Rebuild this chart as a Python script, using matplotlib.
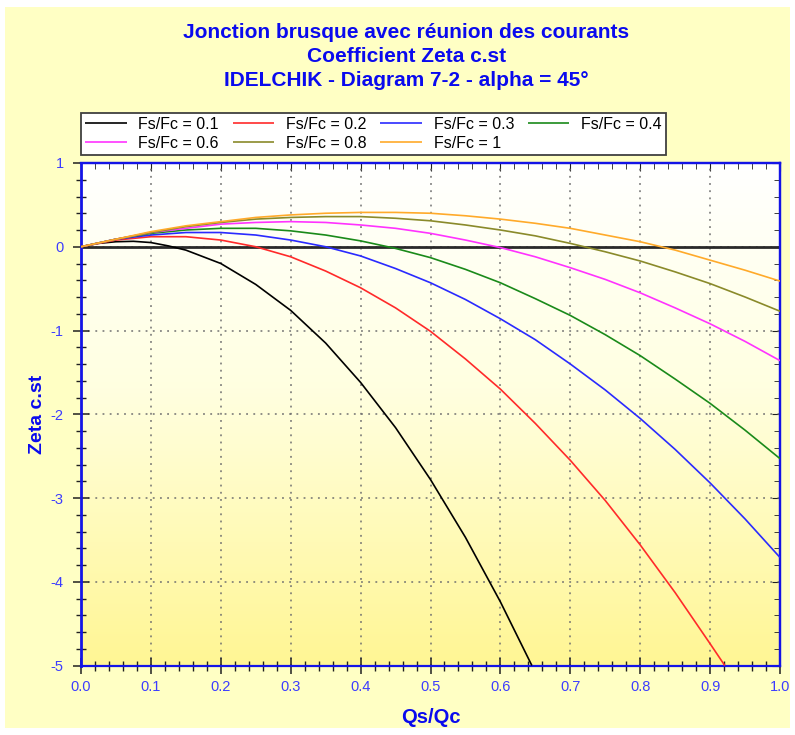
import numpy as np
import matplotlib.pyplot as plt
from matplotlib.colors import LinearSegmentedColormap
from matplotlib.patches import Rectangle
from matplotlib.ticker import MultipleLocator

plt.rcParams['font.family'] = ['Liberation Sans', 'DejaVu Sans']

# ---------------------------------------------------------------------------
# Data (Zeta c.st vs Qs/Qc, one curve per Fs/Fc)
# ---------------------------------------------------------------------------
labels = ["Fs/Fc = 0.1", "Fs/Fc = 0.2", "Fs/Fc = 0.3", "Fs/Fc = 0.4",
          "Fs/Fc = 0.6", "Fs/Fc = 0.8", "Fs/Fc = 1"]

qs_full = [0.0, 0.05, 0.1, 0.15, 0.2, 0.25, 0.3, 0.35, 0.4, 0.45, 0.5,
           0.55, 0.6, 0.65, 0.7, 0.75, 0.8, 0.85, 0.9, 0.95, 1.0]
qs_01 = [0.0, 0.025, 0.05, 0.075, 0.1, 0.125, 0.15, 0.2, 0.25, 0.3, 0.35,
         0.4, 0.45, 0.5, 0.55, 0.6, 0.645]
qs_02 = [0.0, 0.05, 0.1, 0.15, 0.2, 0.25, 0.3, 0.35, 0.4, 0.45, 0.5,
         0.55, 0.6, 0.65, 0.7, 0.75, 0.8, 0.85, 0.9, 0.921]

zeta_01 = [0.0, 0.04, 0.06, 0.065, 0.05, 0.01, -0.04, -0.2, -0.45, -0.76,
           -1.15, -1.62, -2.16, -2.78, -3.47, -4.24, -5.0]
zeta_02 = [0.0, 0.08, 0.12, 0.12, 0.08, 0.0, -0.12, -0.29, -0.49, -0.73,
           -1.01, -1.34, -1.70, -2.11, -2.55, -3.03, -3.56, -4.13, -4.74, -5.0]
zeta_03 = [0.0, 0.09, 0.14, 0.17, 0.17, 0.14, 0.08, 0.0, -0.11, -0.26,
           -0.43, -0.63, -0.86, -1.11, -1.40, -1.71, -2.05, -2.42, -2.82,
           -3.25, -3.71]
zeta_04 = [0.0, 0.09, 0.16, 0.20, 0.22, 0.22, 0.19, 0.14, 0.07, -0.02,
           -0.13, -0.27, -0.43, -0.62, -0.82, -1.05, -1.30, -1.58, -1.87,
           -2.19, -2.53]
zeta_06 = [0.0, 0.09, 0.17, 0.22, 0.27, 0.29, 0.30, 0.29, 0.26, 0.22,
           0.16, 0.08, -0.01, -0.12, -0.25, -0.39, -0.55, -0.73, -0.92,
           -1.13, -1.36]
zeta_08 = [0.0, 0.09, 0.17, 0.24, 0.29, 0.33, 0.35, 0.36, 0.36, 0.34,
           0.31, 0.26, 0.20, 0.13, 0.04, -0.06, -0.17, -0.30, -0.44, -0.60,
           -0.77]
zeta_10 = [0.0, 0.09, 0.18, 0.25, 0.30, 0.35, 0.38, 0.40, 0.41, 0.41,
           0.40, 0.37, 0.33, 0.28, 0.22, 0.14, 0.06, -0.04, -0.16, -0.28,
           -0.41]

series_x = [qs_01, qs_02, qs_full, qs_full, qs_full, qs_full, qs_full]
series_y = [zeta_01, zeta_02, zeta_03, zeta_04, zeta_06, zeta_08, zeta_10]
colors = ["#000000", "#FF2A2A", "#2A2AFF", "#1A8A1A", "#FF33FF",
          "#8A8A2A", "#FFAA2A"]

title_lines = ["Jonction brusque avec réunion des courants",
               "Coefficient Zeta c.st",
               "IDELCHIK - Diagram 7-2 - alpha = 45°"]

blue = "#0A0AEE"
tick_blue = "#3C3CFF"

# ---------------------------------------------------------------------------
# Figure
# ---------------------------------------------------------------------------
fig = plt.figure(figsize=(7.95, 7.35), dpi=100, facecolor="white")
fig.patches.append(Rectangle((5 / 795, 1 - 728 / 735), 785 / 795, 721 / 735,
                             transform=fig.transFigure, facecolor="#FFFFC4",
                             edgecolor="none", zorder=-10))

ax = fig.add_axes([81 / 795, 1 - 665.5 / 735, 699 / 795, 502.5 / 735])
ax.set_facecolor("white")

# white -> yellow vertical gradient behind the plot
cmap = LinearSegmentedColormap.from_list(
    "bg", [(0.0, "#FFFFFF"), (0.45, "#FFFFE0"), (1.0, "#FFF694")])
ax.imshow(np.linspace(0, 1, 256).reshape(-1, 1), cmap=cmap, aspect="auto",
          extent=[0, 1, -5, 1], origin="upper", zorder=0)

ax.grid(True, which="major", color="#707070", linestyle=(0, (1.2, 3.5)),
        linewidth=1.1, zorder=1)
ax.axhline(0, color="#2A2A2A", linewidth=2.0, zorder=2)

lines = []
for xs, ys, c, lab in zip(series_x, series_y, colors, labels):
    ln, = ax.plot(xs, ys, color=c, linewidth=1.2, label=lab, zorder=3,
                  solid_capstyle="butt", solid_joinstyle="round")
    lines.append(ln)

ax.set_xlim(0, 1)
ax.set_ylim(-5, 1)
ax.xaxis.set_major_locator(MultipleLocator(0.1))
ax.xaxis.set_minor_locator(MultipleLocator(0.02))
ax.yaxis.set_major_locator(MultipleLocator(1))
ax.yaxis.set_minor_locator(MultipleLocator(0.2))
ax.xaxis.set_major_formatter(plt.FormatStrFormatter("%.1f"))
ax.yaxis.set_major_formatter(plt.FormatStrFormatter("%d"))

ax.tick_params(which="major", direction="inout", length=11, width=1.1,
               color="#202020", labelcolor=tick_blue, labelsize=10.5)
ax.tick_params(which="minor", direction="inout", length=7, width=1.0,
               color="#202020")
ax.tick_params(axis="x", which="major", pad=5)
ax.tick_params(axis="y", which="major", pad=7)

# inward ticks on top and right
secx = ax.secondary_xaxis("top")
secx.xaxis.set_major_locator(MultipleLocator(0.1))
secx.xaxis.set_minor_locator(MultipleLocator(0.02))
secx.tick_params(which="major", direction="in", length=6, color="#202020",
                 labeltop=False)
secx.tick_params(which="minor", direction="in", length=4, color="#202020")
secy = ax.secondary_yaxis("right")
secy.yaxis.set_major_locator(MultipleLocator(1))
secy.yaxis.set_minor_locator(MultipleLocator(0.2))
secy.tick_params(which="major", direction="in", length=6, color="#202020",
                 labelright=False)
secy.tick_params(which="minor", direction="in", length=4, color="#202020")

for sp in list(ax.spines.values()) + [secx.spines["top"], secy.spines["right"]]:
    sp.set_color("#1414E6")
    sp.set_linewidth(1.6)
ax.spines["left"].set_linewidth(2.0)

ax.set_xlabel("Qs/Qc", fontsize=14.5, fontweight="bold", color=blue,
              labelpad=10)
ax.set_ylabel("Zeta c.st", fontsize=14, fontweight="bold", color=blue,
              labelpad=3)

for i, line in enumerate(title_lines):
    fig.text(0.511, 1 - (33 + 24 * i) / 735, line, ha="center", va="center",
             fontsize=15, fontweight="bold", color=blue)

# legend filled row by row: 0.1 0.2 0.3 0.4 / 0.6 0.8 1
order = [0, 4, 1, 5, 2, 6, 3]
leg = ax.legend([lines[i] for i in order], [labels[i] for i in order],
                loc="upper left", bbox_to_anchor=(81 / 795, 1 - 113 / 735),
                bbox_transform=fig.transFigure, ncol=4, fontsize=11.5,
                frameon=True, fancybox=False, borderaxespad=0,
                handlelength=2.6, handletextpad=0.75, columnspacing=0.85,
                labelspacing=0.22, borderpad=0.25)
leg.get_frame().set_edgecolor("#404040")
leg.get_frame().set_linewidth(1.3)
leg.get_frame().set_facecolor("white")
leg.get_frame().set_alpha(1)

fig.savefig("out.png", dpi=100, facecolor=fig.get_facecolor())
